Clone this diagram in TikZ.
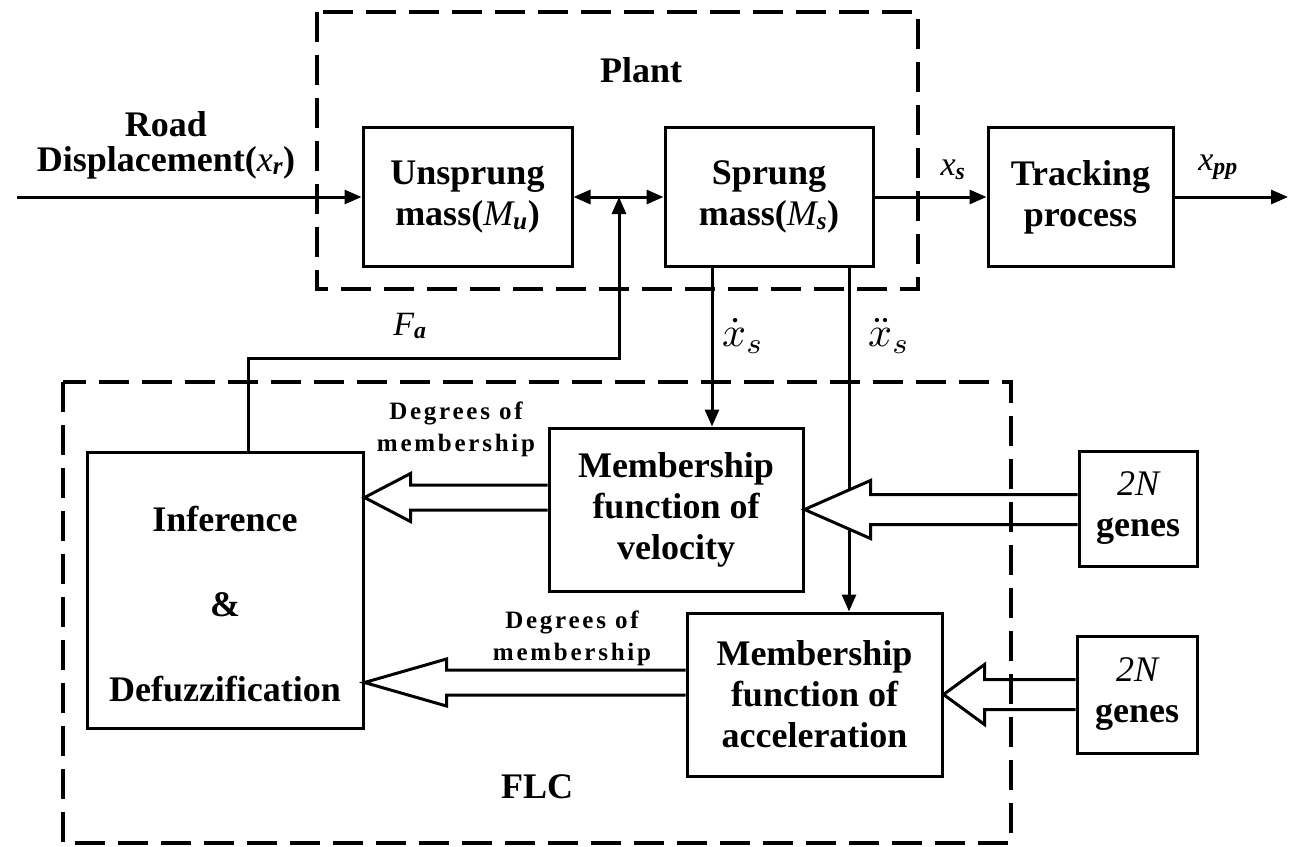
\documentclass[tikz,border=0pt]{standalone}
\usepackage{fontspec}
\setmainfont{Liberation Serif}
\newfontfamily\spacedfont[LetterSpace=11]{Liberation Serif}
\usepackage{graphicx}
\usepackage{tikz}
\usetikzlibrary{arrows.meta, positioning, calc}

% italic symbol with bold italic index
\newcommand{\mvar}[2]{{\mdseries\itshape #1}\textsubscript{\bfseries\itshape #2}}
% hollow block arrow: tip, tail, head length, head half width, shaft half width
\newcommand{\fatarrow}[5]{%
  \draw[fat] ($(#2)+(0,-#5)$) -- ($(#1)+(#3,-#5)$) -- ($(#1)+(#3,-#4)$) -- (#1)
    -- ($(#1)+(#3,#4)$) -- ($(#1)+(#3,#5)$) -- ($(#2)+(0,#5)$);}

\begin{document}
\begin{tikzpicture}[
    x=1pt, y=-1pt,
    block/.style={rectangle, draw=black, line width=3pt, fill=white, align=center, inner sep=0pt, font=\fontsize{36}{41}\selectfont\bfseries},
    arrow/.style={-{Triangle[length=17pt,width=14pt]}, line width=3pt},
    fat/.style={line width=3pt, fill=white, line join=miter},
    frame/.style={line width=3.5pt, dash pattern=on 30pt off 13pt},
    tag/.style={inner sep=0pt, align=center, font=\fontsize{34}{36}\selectfont\bfseries},
    degtag/.style={inner sep=0pt, align=center, font=\spacedfont\bfseries\fontsize{25}{32}\selectfont},
    mathtag/.style={inner sep=0pt}
]
\useasboundingbox (0,0) rectangle (1292,846);

% Plant (top row)
\node[block, minimum width=209pt, minimum height=139pt] (unsprung) at (467.5,197) {Unsprung\\mass(\mvar{M}{u})};
\node[block, minimum width=208pt, minimum height=139pt, right=90pt of unsprung] (sprung) {Sprung\\mass(\mvar{M}{s})};
\node[block, minimum width=185pt, minimum height=139pt, right=112pt of sprung] (tracking) {Tracking\\process};

% FLC (lower part)
\node[block, minimum width=276pt, minimum height=276pt] (infer) at (225,590) {\mbox{}\\[12pt]Inference\\[44pt]\&\\[44pt]Defuzzification};
\node[block, minimum width=254pt, minimum height=163pt] (vel) at (676,509.5) {Membership\\function of\\velocity};
\node[block, minimum width=255pt, minimum height=163pt] (acc) at (814.5,694.5) {Membership\\function of\\acceleration};
\node[block, minimum width=118pt, minimum height=115pt] (genes1) at (1138,508.5) {{\mdseries\itshape 2N}\\genes};
\node[block, minimum width=120pt, minimum height=117pt] (genes2) at (1137,694.5) {{\mdseries\itshape 2N}\\genes};

% Labels
\node[tag, font=\fontsize{36}{41}\selectfont\bfseries] (plantlabel) at (641,70) {Plant};
\node[tag, font=\fontsize{36}{41}\selectfont\bfseries] (flclabel) at (537,787) {FLC};
\node[tag, font=\fontsize{36}{35}\selectfont\bfseries] (roadlabel) at (166,145) {Road\\Displacement(\mvar{x}{r})};
\node[tag] (xslabel) at (953,170) {\mvar{x}{s}};
\node[tag] (xpplabel) at (1218,167) {\mvar{x}{pp}};
\node[tag] (falabel) at (410,326) {\mvar{F}{a}};
\node[mathtag] (vlabel) at (743,336) {\scalebox{4.2}{$\dot{x}_s$}};
\node[mathtag] (alabel) at (889,336) {\scalebox{4.2}{$\ddot{x}_s$}};
\node[degtag] (deg1) at (456,429) {Degrees of\\membership};
\node[degtag] (deg2) at (572,638) {Degrees of\\membership};

% Free ends and taps
\coordinate (road) at (17,197);
\coordinate (out) at (1288,197);
\coordinate (fabend) at (248,358);
\coordinate (fajoin) at (619,197);
\coordinate (vtap) at (712,0);
\coordinate (atap) at (849,0);

% Arrows - plant
\draw[arrow] (road) -- (unsprung);
\draw[{Triangle[length=17pt,width=14pt]}-{Triangle[length=17pt,width=14pt]}, line width=3pt] (unsprung) -- (sprung);
\draw[arrow] (sprung) -- (tracking);
\draw[arrow] (tracking) -- (out);
\draw[arrow] (infer.north -| fabend) -- (fabend) -| (fajoin);

% Arrows - feedback signals
\draw[arrow] (sprung.south -| vtap) -- (vel.north -| vtap);
\draw[arrow] (sprung.south -| atap) -- (acc.north -| atap);

% Hollow arrows
\coordinate[yshift=12pt] (tipA) at (infer.east |- vel.west);
\coordinate[yshift=12pt] (tailA) at (vel.west);
\coordinate[yshift=12pt] (tipB) at (infer.east |- acc.west);
\coordinate[yshift=12pt] (tailB) at (acc.west);
\coordinate (tailC) at (genes1.west |- vel.east);
\coordinate (tailD) at (genes2.west |- acc.east);
\fatarrow{tipA}{tailA}{46}{24}{12.5}
\fatarrow{tipB}{tailB}{82}{23.5}{12.5}
\fatarrow{vel.east}{tailC}{66}{29}{15}
\fatarrow{acc.east}{tailD}{41}{30}{15}

% Dashed frames
\draw[frame] (317,12) rectangle (918,289);
\draw[frame] (63,382) rectangle (1011,843);

\end{tikzpicture}
\end{document}
